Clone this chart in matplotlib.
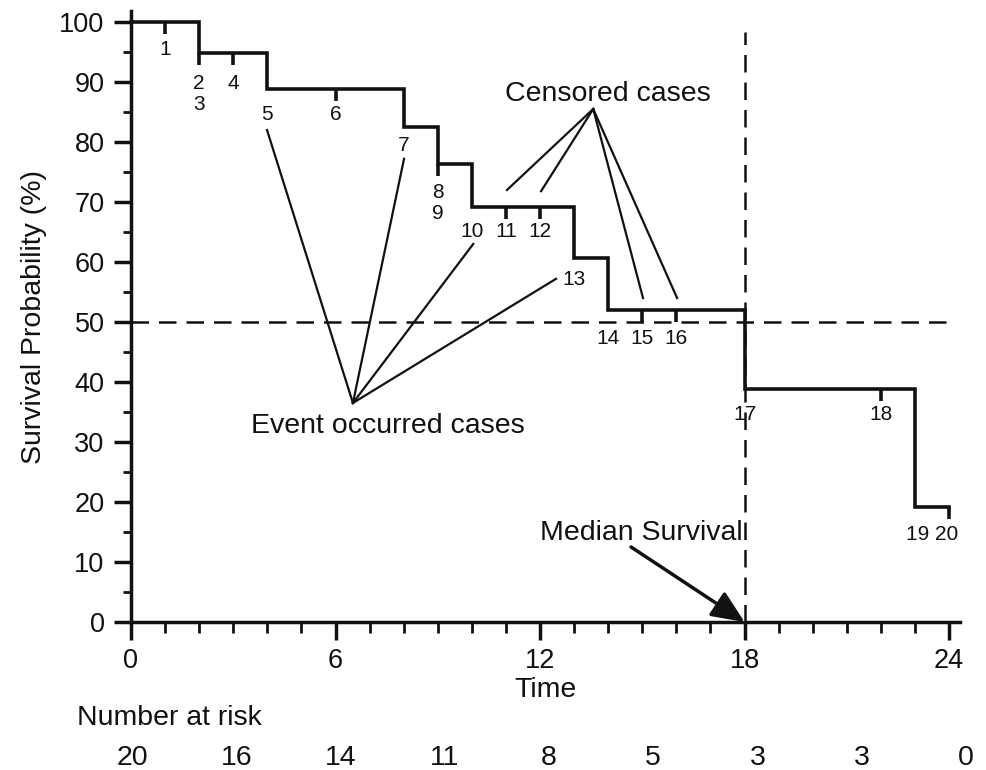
import matplotlib
matplotlib.use('Agg')
import matplotlib.pyplot as plt
import numpy as np
from matplotlib.transforms import blended_transform_factory

plt.rcParams['font.family'] = ['Liberation Sans', 'DejaVu Sans']

# Kaplan-Meier step curve: survival (%) from each time onwards
step_times = [0, 2, 4, 8, 9, 10, 13, 14, 18, 23, 24]
step_survival = [100, 94.8, 88.8, 82.5, 76.3, 69.2, 60.7, 52.0, 38.8, 19.2, 19.2]

# tick marks hanging below the curve
mark_times = [1, 2, 3, 6, 9, 11, 12, 15, 16, 22, 24]

# case numbers and the time they sit at
case_labels = ['1', '2', '3', '4', '5', '6', '7', '8', '9', '10', '11', '12',
               '13', '14', '15', '16', '17', '18', '19 20']
case_times = [1, 2, 2, 3, 4, 6, 8, 9, 9, 10, 11, 12,
              13, 14, 15, 16, 18, 22, 23.5]

risk_times = [0, 3, 6, 9, 12, 15, 18, 21, 24]
risk_counts = [20, 16, 14, 11, 8, 5, 3, 3, 0]

median_time = 18

# glyph-centre drop below the curve for each case number (pixels)
case_drop_px = [26, 29, 50, 29, 24, 24, 17, 27, 48, 23, 23, 23,
                20, 27, 27, 27, 24, 24, 26]


def level_at(t):
    i = np.searchsorted(step_times, t, side='right') - 1
    return step_survival[i]


fig = plt.figure(figsize=(9.87, 7.70), dpi=100)
ax = fig.add_axes([131 / 987, 148 / 770, 829 / 987, 611 / 770])
ax.set_xlim(0, 24.32)
ax.set_ylim(0, 101.83)

ink = '#111111'

for side in ('top', 'right'):
    ax.spines[side].set_visible(False)
for side in ('left', 'bottom'):
    ax.spines[side].set_linewidth(2.5)
    ax.spines[side].set_color(ink)

ax.set_yticks(np.arange(0, 101, 10))
ax.set_yticks(np.arange(5, 100, 10), minor=True)
ax.set_xticks([0, 6, 12, 18, 24])
ax.set_xticks(np.arange(0, 25, 1), minor=True)
ax.tick_params(axis='y', which='major', direction='out', length=12, width=2.5,
               labelsize=19.5, pad=7, color=ink, labelcolor=ink)
ax.tick_params(axis='y', which='minor', direction='out', length=6, width=2.0,
               color=ink)
ax.tick_params(axis='x', which='major', direction='out', length=13, width=2.5,
               labelsize=19.5, pad=6, color=ink, labelcolor=ink)
ax.tick_params(axis='x', which='minor', direction='out', length=8, width=2.0,
               color=ink)

ax.set_ylabel('Survival Probability (%)', fontsize=20.5, labelpad=9, color=ink)
ax.set_xlabel('Time', fontsize=20.5, labelpad=2, color=ink)

# reference lines
dash = (0, (7, 4))
ax.plot([0, 24.1], [50, 50], color=ink, lw=1.8, linestyle=dash,
        clip_on=False)
ax.plot([median_time, median_time], [0, 98.3], color=ink, lw=1.8,
        linestyle=dash, clip_on=False)

# survival curve
ax.step(step_times, step_survival, where='post', color=ink, lw=2.6,
        solid_joinstyle='miter', clip_on=False, zorder=3)

for t in mark_times:
    lv = level_at(t)
    ax.plot([t, t], [lv, lv - 2], color=ink, lw=2.6,
            solid_capstyle='butt', zorder=3)

# case numbers
for text, t, drop in zip(case_labels, case_times, case_drop_px):
    lv = level_at(min(t, 23))
    ax.annotate(text, (t, lv), xytext=(0, -(drop + 7) * 0.72),
                textcoords='offset points', ha='center', va='baseline',
                fontsize=15, color=ink)

# pointer lines
event_hub = (6.51, 36.5)
event_ends = [(3.99, 82.0), (8.01, 77.2), (10.04, 63.0), (12.47, 57.2)]
censor_hub = (13.56, 85.5)
censor_ends = [(11.03, 72.0), (12.03, 71.8), (15.02, 54.0), (16.02, 54.0)]
for hub, ends in ((event_hub, event_ends), (censor_hub, censor_ends)):
    for ex, ey in ends:
        ax.plot([hub[0], ex], [hub[1], ey], color=ink, lw=1.6)

ax.text(7.53, 31.5, 'Event occurred cases', ha='center', va='baseline',
        fontsize=20.5, color=ink)
ax.text(14.0, 86.9, 'Censored cases', ha='center', va='baseline',
        fontsize=20.5, color=ink)

ax.text(17.95, 13.7, 'Median Survival', ha='right', va='baseline',
        fontsize=20.5, color=ink)
ax.annotate('', xy=(median_time, 0), xytext=(14.67, 12.5),
            arrowprops=dict(arrowstyle='-|>,head_length=0.8,head_width=0.35',
                            mutation_scale=25, lw=2.5, color=ink,
                            shrinkA=0, shrinkB=0))

# number-at-risk table
fig.text(77 / 987, 45 / 770, 'Number at risk', ha='left', va='baseline',
         fontsize=20.5, color=ink)
risk_ax = fig.add_axes([132 / 987, 0, 834 / 987, 0.05])
risk_ax.set_xlim(0, 24)
risk_ax.axis('off')
trans = blended_transform_factory(risk_ax.transData, fig.transFigure)
for t, n in zip(risk_times, risk_counts):
    risk_ax.text(t, 5 / 770, str(n), transform=trans, ha='center',
                 va='baseline', fontsize=20.5, color=ink)

fig.savefig('out.png', dpi=100, facecolor='white')
